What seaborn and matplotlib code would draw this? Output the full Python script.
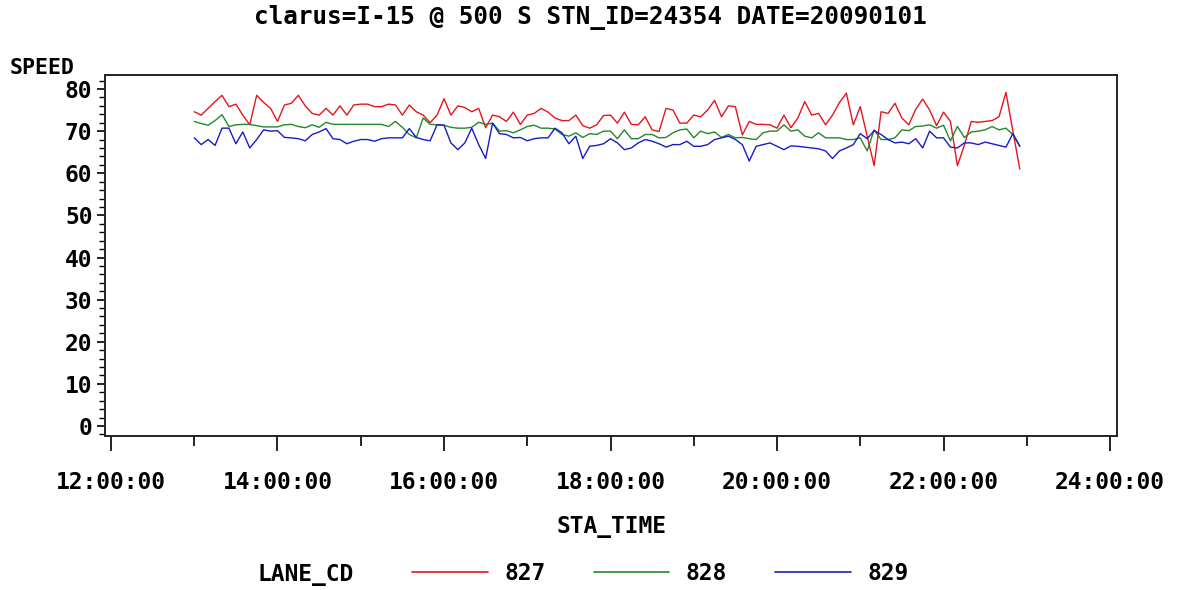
import numpy as np
import pandas as pd
import matplotlib
matplotlib.use("Agg")
import matplotlib.pyplot as plt
from matplotlib.ticker import MultipleLocator, FixedLocator, FuncFormatter
import seaborn as sns

# ---- data (5-minute observations, 13:00 .. 22:55) ----
times = pd.date_range("2009-01-01 13:00", periods=120, freq="5min")

lane_827 = [74.6, 73.8, 75.4, 77.0, 78.5, 75.8, 76.4, 73.8, 71.5, 78.5,
            76.8, 75.4, 72.3, 76.2, 76.6, 78.5, 76.0, 74.2, 73.8, 75.4,
            73.8, 76.0, 73.8, 76.2, 76.4, 76.4, 75.8, 75.8, 76.4, 76.2,
            73.8, 76.2, 74.6, 73.8, 72.0, 73.8, 77.7, 73.8, 76.0, 75.6,
            74.6, 75.4, 70.8, 73.8, 73.4, 72.3, 74.5, 71.6, 73.8, 74.2,
            75.4, 74.5, 73.1, 72.5, 72.5, 73.8, 71.3, 70.7, 71.5, 73.7,
            73.8, 71.9, 74.5, 71.6, 71.5, 73.4, 70.3, 69.9, 75.4, 75.0,
            71.9, 71.9, 73.8, 73.4, 75.0, 77.3, 73.4, 76.0, 75.8, 69.1,
            72.3, 71.6, 71.6, 71.5, 70.7, 73.8, 70.8, 73.1, 77.0, 73.8,
            74.2, 71.5, 73.8, 76.8, 79.0, 71.5, 75.8, 68.8, 61.8, 74.6,
            74.2, 76.6, 73.1, 71.5, 75.2, 77.6, 75.0, 71.3, 74.5, 72.3,
            61.8, 66.6, 72.3, 72.1, 72.3, 72.5, 73.4, 79.2, 70.0, 61.0]

lane_828 = [72.3, 71.8, 71.4, 72.5, 73.9, 71.1, 71.5, 71.6, 71.6, 71.3,
            71.0, 71.0, 71.0, 71.5, 71.6, 71.1, 70.8, 71.5, 70.9, 72.1,
            71.6, 71.6, 71.6, 71.6, 71.6, 71.6, 71.6, 71.6, 71.1, 72.3,
            70.9, 69.2, 68.4, 73.1, 71.6, 71.5, 71.4, 70.9, 70.7, 70.7,
            70.9, 72.1, 71.6, 71.9, 70.0, 70.1, 69.6, 70.3, 71.1, 71.4,
            70.7, 70.7, 70.5, 69.2, 68.8, 69.6, 68.5, 69.4, 69.2, 70.0,
            70.0, 68.2, 70.3, 68.2, 68.2, 69.2, 69.2, 68.4, 68.5, 69.6,
            70.3, 70.5, 68.4, 70.0, 69.4, 69.8, 68.5, 69.2, 68.4, 68.5,
            68.2, 68.0, 69.6, 70.0, 70.0, 71.5, 70.0, 70.3, 68.8, 68.4,
            69.6, 68.4, 68.4, 68.4, 68.0, 68.0, 68.4, 65.3, 70.3, 68.0,
            68.0, 68.4, 70.3, 70.1, 71.1, 71.2, 71.5, 70.7, 71.4, 67.7,
            71.1, 68.5, 69.8, 70.0, 70.3, 71.1, 70.3, 70.7, 69.2, 66.4]

lane_829 = [68.4, 66.8, 68.0, 66.6, 70.7, 70.7, 67.0, 69.8, 66.0, 68.0,
            70.3, 70.0, 70.1, 68.5, 68.4, 68.2, 67.7, 69.2, 69.8, 70.6,
            68.2, 68.0, 67.0, 67.6, 68.0, 68.0, 67.6, 68.2, 68.4, 68.4,
            68.4, 70.6, 68.5, 68.0, 67.7, 71.5, 71.4, 67.2, 65.6, 67.2,
            70.7, 66.8, 63.5, 71.9, 69.4, 69.2, 68.4, 68.5, 67.7, 68.2,
            68.4, 68.4, 70.7, 69.6, 67.0, 68.8, 63.5, 66.4, 66.6, 67.0,
            68.2, 67.2, 65.6, 66.0, 67.2, 68.0, 67.6, 67.0, 66.2, 66.8,
            66.8, 67.6, 66.4, 66.4, 66.8, 68.0, 68.4, 68.8, 68.0, 66.8,
            62.9, 66.4, 66.8, 67.2, 66.4, 65.6, 66.5, 66.4, 66.2, 66.0,
            65.8, 65.3, 63.5, 65.3, 66.0, 66.8, 69.4, 68.2, 70.1, 69.2,
            68.0, 67.2, 67.4, 67.0, 68.2, 66.0, 70.0, 68.4, 68.4, 66.2,
            66.0, 67.2, 67.2, 66.8, 67.4, 67.0, 66.6, 66.2, 69.4, 66.4]

lanes = ["827", "828", "829"]
colors = ["#e8141c", "#23882b", "#1a1ac8"]
x_major = [12, 14, 16, 18, 20, 22, 24]
title = "clarus=I-15 @ 500 S STN_ID=24354 DATE=20090101"

hours = times.hour + times.minute / 60.0
df = pd.concat([
    pd.DataFrame({"STA_TIME": hours, "SPEED": vals, "LANE_CD": lane})
    for lane, vals in zip(lanes, [lane_827, lane_828, lane_829])
], ignore_index=True)

sns.set_theme(style="white")
FONT = ["DejaVu Sans Mono", "DejaVu Sans"]
plt.rcParams["font.family"] = FONT
plt.rcParams["font.weight"] = "bold"
plt.rcParams["text.color"] = "black"
plt.rcParams["xtick.color"] = "black"
plt.rcParams["ytick.color"] = "black"
plt.rcParams["axes.labelcolor"] = "black"

fig = plt.figure(figsize=(11.77, 5.90), dpi=100)
ax = fig.add_axes([105 / 1177, 1 - 436 / 590, (1117 - 105) / 1177, (436 - 75) / 590])

sns.lineplot(data=df, x="STA_TIME", y="SPEED", hue="LANE_CD",
             palette=dict(zip(lanes, colors)), hue_order=lanes,
             linewidth=1.0, ax=ax, legend=True, estimator=None)

ax.set_xlim(11.928, 24.084)
ax.set_ylim(-2.37, 83.32)

ax.xaxis.set_major_locator(FixedLocator(x_major))
ax.xaxis.set_minor_locator(MultipleLocator(1))
ax.xaxis.set_major_formatter(FuncFormatter(lambda v, p: f"{int(round(v)):02d}:00:00"))
ax.yaxis.set_major_locator(MultipleLocator(10))
ax.yaxis.set_minor_locator(MultipleLocator(2))

ax.tick_params(axis="x", which="major", direction="out", length=11, width=1.2,
               pad=14, labelsize=16.5, colors="black", bottom=True)
ax.tick_params(axis="x", which="minor", direction="out", length=7, width=1.2, bottom=True)
ax.tick_params(axis="y", which="major", direction="out", length=6, width=1.2,
               pad=3, labelsize=16.5, colors="black", left=True)
ax.tick_params(axis="y", which="minor", direction="out", length=4, width=1.0, left=True)
for lab in ax.get_xticklabels() + ax.get_yticklabels():
    lab.set_fontweight("bold")
    lab.set_family(FONT)
    lab.set_color("black")

for s in ax.spines.values():
    s.set_visible(True)
    s.set_color("#222222")
    s.set_linewidth(1.4)

ax.set_xlabel("")
ax.set_ylabel("")

# texts
fig.text(590 / 1177, 1 - 18 / 590, title, ha="center", va="center",
         fontsize=17.5, fontweight="bold", family=FONT, color="black")
fig.text(10 / 1177, 1 - 68 / 590, "SPEED", ha="left", va="center",
         fontsize=15.5, fontweight="bold", family=FONT, color="black")
fig.text(611 / 1177, 1 - 526 / 590, "STA_TIME", ha="center", va="center",
         fontsize=16.5, fontweight="bold", family=FONT, color="black")
fig.text(258 / 1177, 1 - 574 / 590, "LANE_CD", ha="left", va="center",
         fontsize=16.5, fontweight="bold", family=FONT, color="black")

handles, labels = ax.get_legend_handles_labels()
ax.get_legend().remove()
leg = fig.legend(handles, labels, loc="center left",
                 bbox_to_anchor=(412 / 1177, 1 - 574 / 590),
                 ncol=3, frameon=False, borderpad=0, borderaxespad=0,
                 handlelength=3.3, handletextpad=0.72, columnspacing=2.1,
                 prop={"family": FONT, "weight": "bold", "size": 16.5})
for text in leg.get_texts():
    text.set_color("black")
for line in leg.get_lines():
    line.set_linewidth(1.2)

fig.savefig("out.png", dpi=100)
